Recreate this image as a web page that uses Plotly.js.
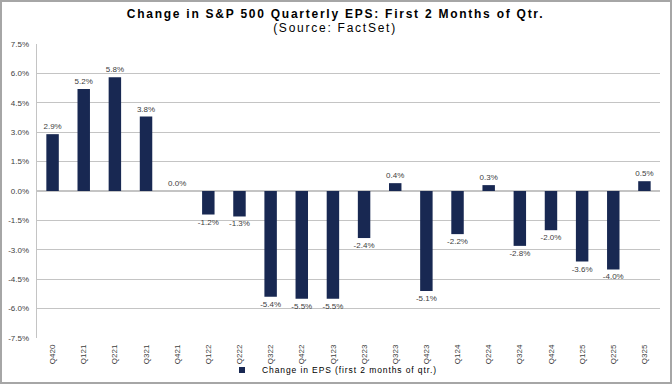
<!DOCTYPE html>
<html>
<head>
<meta charset="utf-8">
<script src="https://cdn.plot.ly/plotly-3.0.1.min.js"></script>
<style>
  html, body { margin: 0; padding: 0; background: #fff; }
  #chart { width: 668px; height: 380px; border: 2px solid #a6a6a6; }
  #chart .gtitle, #chart .annotation-text { letter-spacing: 1.75px; }
  #chart .legendtext { letter-spacing: 0.9px; }
</style>
</head>
<body>
<div id="chart"></div>
<script>
const quarters = ["Q420","Q121","Q221","Q321","Q421","Q122","Q222","Q322","Q422","Q123",
                  "Q223","Q323","Q423","Q124","Q224","Q324","Q424","Q125","Q225","Q325"];
const epsChange = [2.9, 5.2, 5.8, 3.8, 0.0, -1.2, -1.3, -5.4, -5.5, -5.5,
                   -2.4, 0.4, -5.1, -2.2, 0.3, -2.8, -2.0, -3.6, -4.0, 0.5];
const yTickVals = [-7.5, -6.0, -4.5, -3.0, -1.5, 0.0, 1.5, 3.0, 4.5, 6.0, 7.5];
const yTickText = yTickVals.map(v => v.toFixed(1) + "%");
const seriesName = "Change in EPS (first 2 months of qtr.)";
const titleText = "Change in S&P 500 Quarterly EPS: First 2 Months of Qtr.";
const subtitleText = "(Source: FactSet)";

const FONT = "Liberation Sans, Arial, sans-serif";
const BAR = "#182852";

const barTrace = {
  type: "bar",
  x: quarters,
  y: epsChange,
  name: seriesName,
  marker: { color: BAR, line: { width: 0 } },
  text: epsChange.map(v => v.toFixed(1) + "%"),
  textposition: "outside",
  constraintext: "none",
  textfont: { family: FONT, size: 8, color: "#404040" },
  cliponaxis: false,
  showlegend: false,
  hoverinfo: "x+y"
};

// legend entry (small square key, as in the reference)
const legendTrace = {
  type: "scatter",
  mode: "markers",
  x: [null],
  y: [null],
  name: seriesName,
  marker: { symbol: "square", size: 6, color: BAR },
  showlegend: true,
  hoverinfo: "skip"
};

const layout = {
  width: 668,
  height: 380,
  margin: { l: 35, r: 10, t: 42, b: 44, pad: 0, autoexpand: false },
  paper_bgcolor: "#ffffff",
  plot_bgcolor: "#ffffff",
  font: { family: FONT, size: 8, color: "#404040" },
  bargap: 0.6,
  title: {
    text: "<b>" + titleText + "</b>",
    font: { family: FONT, size: 12, color: "#000000" },
    xref: "container", x: 333.5 / 668, xanchor: "center",
    yref: "container", y: 1 - 12 / 380, yanchor: "middle"
  },
  annotations: [{
    text: subtitleText,
    xref: "paper", x: (333 - 35) / 623, xanchor: "center",
    yref: "paper", y: (336 - 25.8) / 294, yanchor: "middle",
    showarrow: false,
    font: { family: FONT, size: 12, color: "#000000" }
  }],
  xaxis: {
    type: "category",
    tickangle: -90,
    tickfont: { family: FONT, size: 8, color: "#404040" },
    showgrid: false,
    showline: false,
    zeroline: false,
    ticks: "",
    ticklabelstandoff: 4,
    fixedrange: true
  },
  yaxis: {
    range: [-7.5, 7.5],
    tickvals: yTickVals,
    ticktext: yTickText,
    tickfont: { family: FONT, size: 8, color: "#404040" },
    showgrid: true,
    gridcolor: "#c4c4c4",
    gridwidth: 1.3,
    zeroline: false,
    showline: true,
    linecolor: "#c4c4c4",
    linewidth: 1.3,
    ticks: "",
    ticklabelstandoff: 5,
    fixedrange: true
  },
  legend: {
    orientation: "h",
    bgcolor: "rgba(0,0,0,0)",
    xref: "paper", x: (220 - 35) / 623, xanchor: "left",
    yref: "paper", y: (336 - 368) / 294, yanchor: "middle",
    font: { family: FONT, size: 8.5, color: "#000000" },
    entrywidth: 230,
    entrywidthmode: "pixels"
  }
};

Plotly.newPlot("chart", [barTrace, legendTrace], layout, { displayModeBar: false, staticPlot: true });
</script>
</body>
</html>
